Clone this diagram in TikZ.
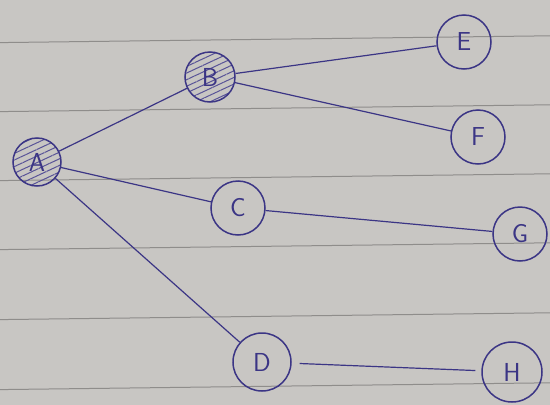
\documentclass[tikz,border=0pt]{standalone}
\usepackage{tikz}
\usetikzlibrary{patterns.meta}
\definecolor{tinta}{HTML}{3B3585}
\definecolor{papel}{HTML}{C8C6C3}
\definecolor{pauta}{HTML}{8F8D8B}
\def\pautas{42.6/35.8, 111.6/104.8, 180.6/173.8, 249.6/242.8, 319.6/312.8, 389.6/382.8}
\tikzset{
  vertice/.style={circle, draw=tinta, line width=1.5pt, inner sep=0pt, minimum size=54pt, text=tinta, font=\fontsize{26}{26}\selectfont\sffamily},
  visitado/.style={vertice, pattern={Lines[angle=25, distance=6pt, line width=1pt]}, pattern color=tinta!85},
  aresta/.style={tinta, line width=1.2pt},
  linha/.style={pauta, line width=1pt},
}

\begin{document}
\begin{tikzpicture}[x=1pt, y=-1pt]

  % ---------------- papel pautado ----------------
  \fill[papel] (0,0) rectangle (550,405);
  \useasboundingbox (0,0) rectangle (550,405);
  \foreach \ya/\yb in \pautas { \draw[linha] (0,\ya) -- (550,\yb); }

  % ---------------- vértices ----------------
  \node[visitado, minimum size=48pt] (A) at (37,162) {A};
  \node[visitado, minimum size=50pt] (B) at (210,77) {B};
  \node[vertice] (C) at (238,208) {C};
  \node[vertice, minimum size=58pt] (D) at (262,362) {D};
  \node[vertice] (E) at (464,42) {E};
  \node[vertice] (F) at (478,137) {F};
  \node[vertice] (G) at (520,234) {G};
  \node[vertice, minimum size=60pt] (H) at (512,372) {H};

  % ---------------- arestas ----------------
  \foreach \u/\v in {A/B, A/C, A/D, B/E, B/F, C/G} { \draw[aresta] (\u) -- (\v); }
  \draw[aresta, shorten <=8pt, shorten >=6pt] (D) -- (H);
\end{tikzpicture}
\end{document}
